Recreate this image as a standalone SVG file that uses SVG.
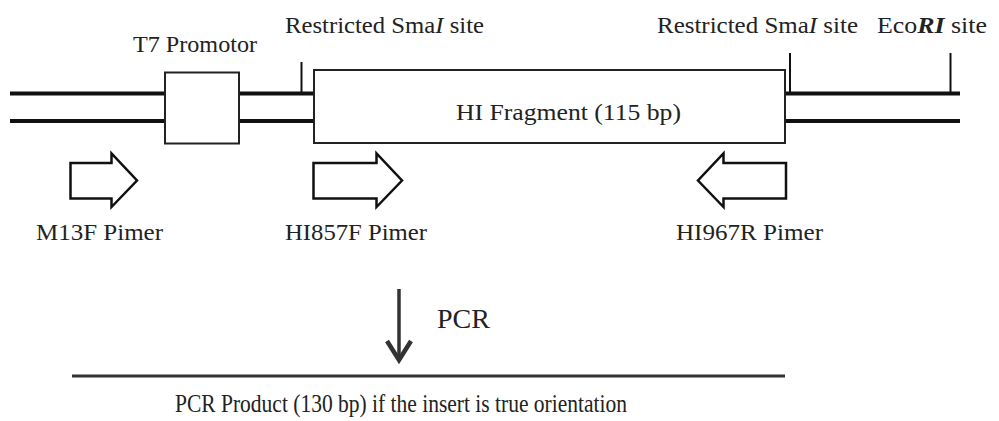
<svg xmlns="http://www.w3.org/2000/svg" width="999" height="421" viewBox="0 0 999 421">
  <style>
    .strand { stroke: #111; stroke-width: 4; fill: none; }
    .tick { stroke: #111; stroke-width: 2; fill: none; }
    .box { fill: #fff; stroke: #222; stroke-width: 2; }
    .primer { fill: #fff; stroke: #111; stroke-width: 2.5; stroke-linejoin: miter; }
  </style>
  <rect width="999" height="421" fill="#fff"/>

  <!-- vector backbone: two strands -->
  <g id="backbone">
    <line class="strand" x1="10" y1="93.5" x2="960" y2="93.5"/>
    <line class="strand" x1="10" y1="121" x2="960" y2="121"/>
  </g>

  <g font-family="'Liberation Serif', serif" font-size="24" fill="#222">
    <!-- restriction sites -->
    <g id="site-smai-1">
      <line class="tick" x1="301.5" y1="62" x2="301.5" y2="93"/>
      <text x="285" y="33" textLength="199" lengthAdjust="spacingAndGlyphs">Restricted Sma<tspan font-style="italic">I</tspan> site</text>
    </g>
    <g id="site-smai-2">
      <line class="tick" x1="790" y1="53" x2="790" y2="93"/>
      <text x="657" y="33" textLength="201" lengthAdjust="spacingAndGlyphs">Restricted Sma<tspan font-style="italic">I</tspan> site</text>
    </g>
    <g id="site-ecori">
      <line class="tick" x1="950.5" y1="53" x2="950.5" y2="93"/>
      <text x="877" y="33" textLength="110" lengthAdjust="spacingAndGlyphs">Eco<tspan font-style="italic" font-weight="bold">RI</tspan> site</text>
    </g>

    <!-- T7 promoter -->
    <g id="t7-promotor">
      <rect class="box" x="165" y="72.5" width="74" height="71"/>
      <text x="133" y="52" font-size="24" textLength="124" lengthAdjust="spacingAndGlyphs">T7 Promotor</text>
    </g>

    <!-- insert -->
    <g id="hi-fragment">
      <rect class="box" x="314" y="70" width="471" height="73"/>
      <text x="456" y="120" font-size="24" textLength="225" lengthAdjust="spacingAndGlyphs">HI Fragment (115 bp)</text>
    </g>

    <!-- primers -->
    <g id="primer-m13f">
      <path class="primer" d="M70.5 163 H111.5 V153.5 L137 180.5 L111.5 207 V198.5 H70.5 Z"/>
      <text x="36" y="240" font-size="24" textLength="127" lengthAdjust="spacingAndGlyphs">M13F Pimer</text>
    </g>
    <g id="primer-hi857f">
      <path class="primer" d="M313.5 163 H376.5 V153.5 L402 180.5 L376.5 207 V198.5 H313.5 Z"/>
      <text x="285" y="240" font-size="24" textLength="142" lengthAdjust="spacingAndGlyphs">HI857F Pimer</text>
    </g>
    <g id="primer-hi967r">
      <path class="primer" d="M786 163 H723.5 V153.5 L698 180.5 L723.5 207 V198.5 H786 Z"/>
      <text x="676" y="240" font-size="24" textLength="147" lengthAdjust="spacingAndGlyphs">HI967R Pimer</text>
    </g>

    <!-- PCR step -->
    <g id="connectors">
      <line x1="399" y1="289" x2="399" y2="358" stroke="#333" stroke-width="3.5"/>
      <polyline points="387,341 399,360 411,341" fill="none" stroke="#333" stroke-width="4.5" stroke-linejoin="miter"/>
    </g>
    <g id="pcr-label">
      <text x="437" y="328" font-size="28" textLength="53" lengthAdjust="spacingAndGlyphs">PCR</text>
    </g>

    <!-- product -->
    <g id="pcr-product">
      <line x1="72" y1="376" x2="785" y2="376" stroke="#333" stroke-width="3"/>
      <text x="175" y="412" font-size="26" textLength="452" lengthAdjust="spacingAndGlyphs">PCR Product (130 bp) if the insert is true orientation</text>
    </g>
  </g>
</svg>
